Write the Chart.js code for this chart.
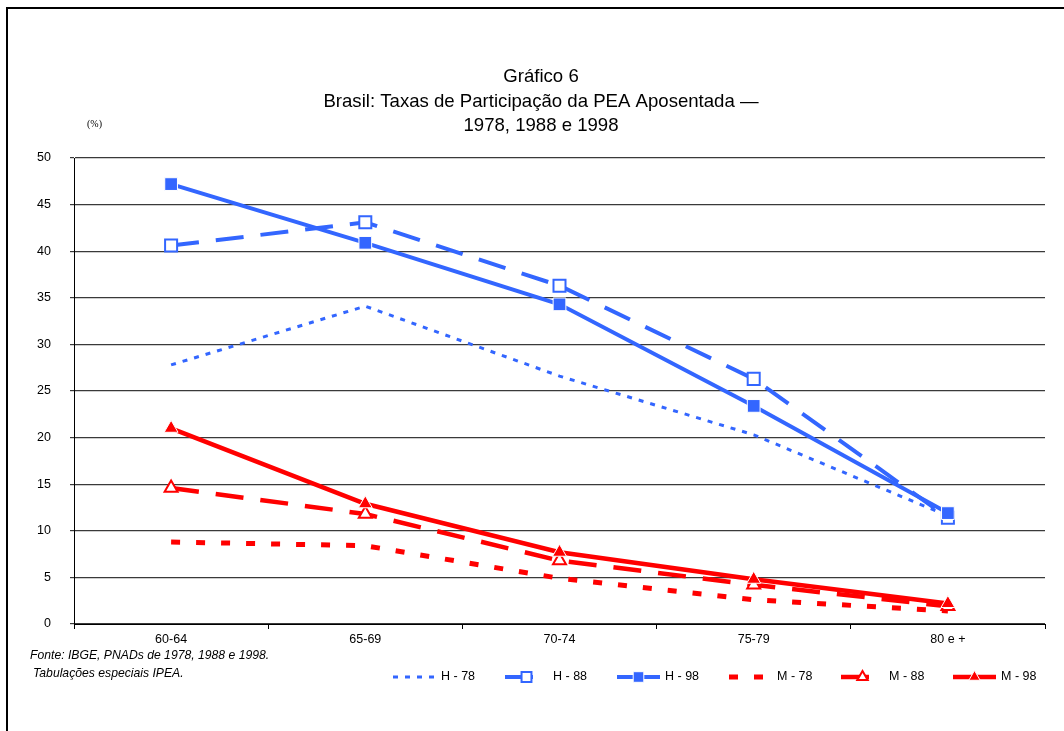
<!DOCTYPE html>
<html>
<head>
<meta charset="utf-8">
<script src="https://cdn.jsdelivr.net/npm/chart.js@4"></script>
<style>
  html, body { margin: 0; padding: 0; background: #fff; }
  #wrap { width: 1064px; height: 731px; position: relative; }
</style>
</head>
<body>
<div id="wrap"><canvas id="chart" width="1064" height="731"></canvas></div>
<script>
// Gráfico 6 - Taxas de participação da PEA aposentada (1978, 1988, 1998)

const categories = ['60-64', '65-69', '70-74', '75-79', '80 e +'];
const yTicks = [0, 5, 10, 15, 20, 25, 30, 35, 40, 45, 50];

const h78 = [27.8, 34.1, 26.6, 20.3, 11.6];
const h88 = [40.6, 43.1, 36.3, 26.3, 11.4];
const h98 = [47.2, 40.9, 34.3, 23.4, 11.9];
const m78 = [8.8, 8.4, 4.9, 2.6, 1.4];
const m88 = [14.6, 11.8, 6.8, 4.2, 1.9];
const m98 = [21.0, 12.9, 7.7, 4.8, 2.2];

const seriesLabels = ['H - 78', 'H - 88', 'H - 98', 'M - 78', 'M - 88', 'M - 98'];

const titleLines = ['Gráfico 6', 'Brasil: Taxas de Participação da PEA Aposentada —', '1978, 1988 e 1998'];
const sourceLines = ['Fonte: IBGE, PNADs de 1978, 1988 e 1998.', 'Tabulações especiais IPEA.'];

const BLUE = '#3366FF';
const RED = '#FF0000';
const FONT = '"Liberation Sans", Arial, sans-serif';

const datasets = [
  { label: seriesLabels[0], data: h78, borderColor: BLUE, borderWidth: 3, borderDash: [5, 7],
    pointRadius: 0, order: 5 },
  { label: seriesLabels[1], data: h88, borderColor: BLUE, borderWidth: 4, borderDash: [28, 17],
    pointStyle: 'rect', pointRadius: 8.5, pointBackgroundColor: '#fff', pointBorderColor: BLUE, pointBorderWidth: 2, order: 4 },
  { label: seriesLabels[2], data: h98, borderColor: BLUE, borderWidth: 4,
    pointStyle: 'rect', pointRadius: 9, pointBackgroundColor: BLUE, pointBorderColor: '#fff', pointBorderWidth: 1, order: 3 },
  { label: seriesLabels[3], data: m78, borderColor: RED, borderWidth: 5, borderDash: [9, 16],
    pointRadius: 0, order: 2 },
  { label: seriesLabels[4], data: m88, borderColor: RED, borderWidth: 4.5, borderDash: [28, 17],
    pointStyle: 'triangle', pointRadius: 7.5, pointBackgroundColor: '#fff', pointBorderColor: RED, pointBorderWidth: 2, order: 1 },
  { label: seriesLabels[5], data: m98, borderColor: RED, borderWidth: 4.5,
    pointStyle: 'triangle', pointRadius: 8, pointBackgroundColor: RED, pointBorderColor: '#fff', pointBorderWidth: 1, order: 0 }
];
datasets.forEach(d => { d.tension = 0; d.fill = false; d.borderCapStyle = 'butt'; d.pointHoverRadius = d.pointRadius; });

// frame, title, notes and legend
const decorPlugin = {
  id: 'decor',
  beforeDraw(chart) {
    const ctx = chart.ctx;
    ctx.save();
    ctx.fillStyle = '#fff';
    ctx.fillRect(0, 0, chart.width, chart.height);
    ctx.strokeStyle = '#000';
    ctx.lineWidth = 2;
    ctx.strokeRect(7, 8, 1200, 900);
    ctx.restore();
  },
  afterDraw(chart) {
    const ctx = chart.ctx;
    ctx.save();
    ctx.fillStyle = '#000';
    ctx.textBaseline = 'middle';

    ctx.font = '18.6px ' + FONT;
    ctx.textAlign = 'center';
    titleLines.forEach((t, i) => ctx.fillText(t, 541, 77 + i * 24.5));

    ctx.font = '10px "Liberation Serif", "Times New Roman", serif';
    ctx.textAlign = 'left';
    ctx.fillText('(%)', 87, 124);

    ctx.font = 'italic 12.2px ' + FONT;
    ctx.fillText(sourceLines[0], 30, 656);
    ctx.fillText(sourceLines[1], 33, 674);

    // legend
    const ly = 677;
    chart.data.datasets.forEach((ds, i) => {
      const tx = 441 + i * 112;
      const x0 = tx - 48, x1 = tx - 5;
      ctx.save();
      ctx.strokeStyle = ds.borderColor;
      ctx.lineWidth = ds.borderWidth;
      ctx.lineCap = 'butt';
      ctx.setLineDash(ds.borderDash || []);
      ctx.beginPath();
      ctx.moveTo(x0, ly);
      ctx.lineTo(x1, ly);
      ctx.stroke();
      ctx.setLineDash([]);
      if (ds.pointRadius > 0) {
        ctx.fillStyle = ds.pointBackgroundColor;
        ctx.strokeStyle = ds.pointBorderColor;
        ctx.lineWidth = ds.pointBorderWidth;
        Chart.helpers.drawPoint(ctx, {
          pointStyle: ds.pointStyle, radius: ds.pointRadius - 1.5, rotation: 0, borderWidth: ds.pointBorderWidth
        }, (x0 + x1) / 2, ly);
      }
      ctx.restore();
      ctx.fillStyle = '#000';
      ctx.font = '12.5px ' + FONT;
      ctx.textAlign = 'left';
      ctx.fillText(ds.label, tx, ly);
    });
    ctx.restore();
  }
};

new Chart(document.getElementById('chart'), {
  type: 'line',
  data: { labels: categories, datasets: datasets },
  plugins: [decorPlugin],
  options: {
    responsive: false,
    animation: false,
    events: [],
    layout: { padding: { left: 0, right: 19, top: 158, bottom: 77 } },
    plugins: {
      legend: { display: false },
      title: { display: false },
      tooltip: { enabled: false }
    },
    scales: {
      x: {
        type: 'category',
        offset: true,
        grid: { offset: true, drawOnChartArea: false, drawTicks: true, tickLength: 5, color: '#000', lineWidth: 1 },
        border: { display: true, color: '#000', width: 1 },
        ticks: { color: '#000', font: { family: FONT, size: 12.5 }, padding: 3, maxRotation: 0 },
        afterFit(scale) { scale.height = 30; }
      },
      y: {
        min: 0, max: 50,
        afterBuildTicks(scale) { scale.ticks = yTicks.map(v => ({ value: v })); },
        grid: { drawOnChartArea: true, drawTicks: true, tickLength: 4, color: '#3a3a3a', lineWidth: 1.2 },
        border: { display: true, color: '#000', width: 1 },
        ticks: { color: '#000', font: { family: FONT, size: 12.5 }, padding: 19 },
        afterFit(scale) { scale.width = 74; }
      }
    }
  }
});
</script>
</body>
</html>
